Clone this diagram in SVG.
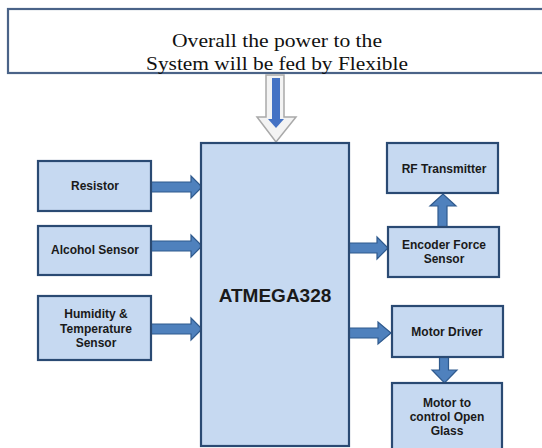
<svg xmlns="http://www.w3.org/2000/svg" width="542" height="448" viewBox="0 0 542 448">
<style>
.box{fill:#c6d9f1;stroke:#2a4a73;stroke-width:2.2}
.lbl{font-family:"Liberation Sans",Arial,sans-serif;font-weight:bold;font-size:12px;fill:#1a1a1a;text-anchor:middle}
.arr{fill:#4f81bd;stroke:#2f5a8e;stroke-width:1.2}
.top{font-family:"Liberation Serif","Times New Roman",serif;font-size:19px;fill:#111;text-anchor:middle}
</style>
<rect width="542" height="448" fill="#ffffff"/>
<g id="power">
<rect x="8" y="9" width="540" height="64" fill="#ffffff" stroke="#4a6388" stroke-width="2.2"/>
<text class="top" x="277" y="47" textLength="210" lengthAdjust="spacingAndGlyphs">Overall the power to the</text>
<text class="top" x="277" y="70" textLength="262" lengthAdjust="spacingAndGlyphs">System will be fed by Flexible</text>
</g>
<g id="connectors">
<polygon points="266,75 284,75 284,117 296,117 276,142 257,117 266,117" fill="#f3f3f3" stroke="#a9a9a9" stroke-width="1.5"/>
<rect x="272" y="78" width="8" height="42" fill="#4472c4"/>
<polygon points="268,119 284,119 276,128" fill="#4472c4"/>
<polygon class="arr" points="151,182 191,182 191,176 202,187 191,198 191,192 151,192"/>
<polygon class="arr" points="151,241 191,241 191,235 202,246 191,257 191,251 151,251"/>
<polygon class="arr" points="151,324 191,324 191,318 202,329 191,340 191,334 151,334"/>
<polygon class="arr" points="349,243 377,243 377,237 388,248 377,259 377,253 349,253"/>
<polygon class="arr" points="349,328 378,328 378,322 391,333 378,344 378,338 349,338"/>
<polygon class="arr" points="438,227 438,206 430,206 443,194 456,206 447,206 447,227"/>
<polygon class="arr" points="439.5,357 448.5,357 448.5,370 457,370 444.5,383 432,370 439.5,370"/>
</g>
<g id="atmega">
<rect class="box" x="201" y="143" width="148" height="303"/>
<text class="lbl" x="275" y="302" style="font-size:19px">ATMEGA328</text>
</g>
<g id="resistor">
<rect class="box" x="38" y="161" width="113" height="50"/>
<text class="lbl" x="95" y="190">Resistor</text>
</g>
<g id="alcohol">
<rect class="box" x="38" y="226" width="113" height="49"/>
<text class="lbl" x="95" y="254">Alcohol Sensor</text>
</g>
<g id="humidity">
<rect class="box" x="38" y="296" width="113" height="64"/>
<text class="lbl" x="96" y="318">Humidity &amp;</text>
<text class="lbl" x="96" y="333">Temperature</text>
<text class="lbl" x="96" y="347">Sensor</text>
</g>
<g id="rf">
<rect class="box" x="387" y="143" width="111" height="50"/>
<text class="lbl" x="444" y="173">RF Transmitter</text>
</g>
<g id="encoder">
<rect class="box" x="388" y="227" width="111" height="50"/>
<text class="lbl" x="444" y="249">Encoder Force</text>
<text class="lbl" x="444" y="263">Sensor</text>
</g>
<g id="motordriver">
<rect class="box" x="392" y="306" width="111" height="51"/>
<text class="lbl" x="447" y="336">Motor Driver</text>
</g>
<g id="motor">
<rect class="box" x="392" y="383" width="110" height="70"/>
<text class="lbl" x="447" y="407">Motor to</text>
<text class="lbl" x="447" y="421">control Open</text>
<text class="lbl" x="447" y="435">Glass</text>
</g>
</svg>
